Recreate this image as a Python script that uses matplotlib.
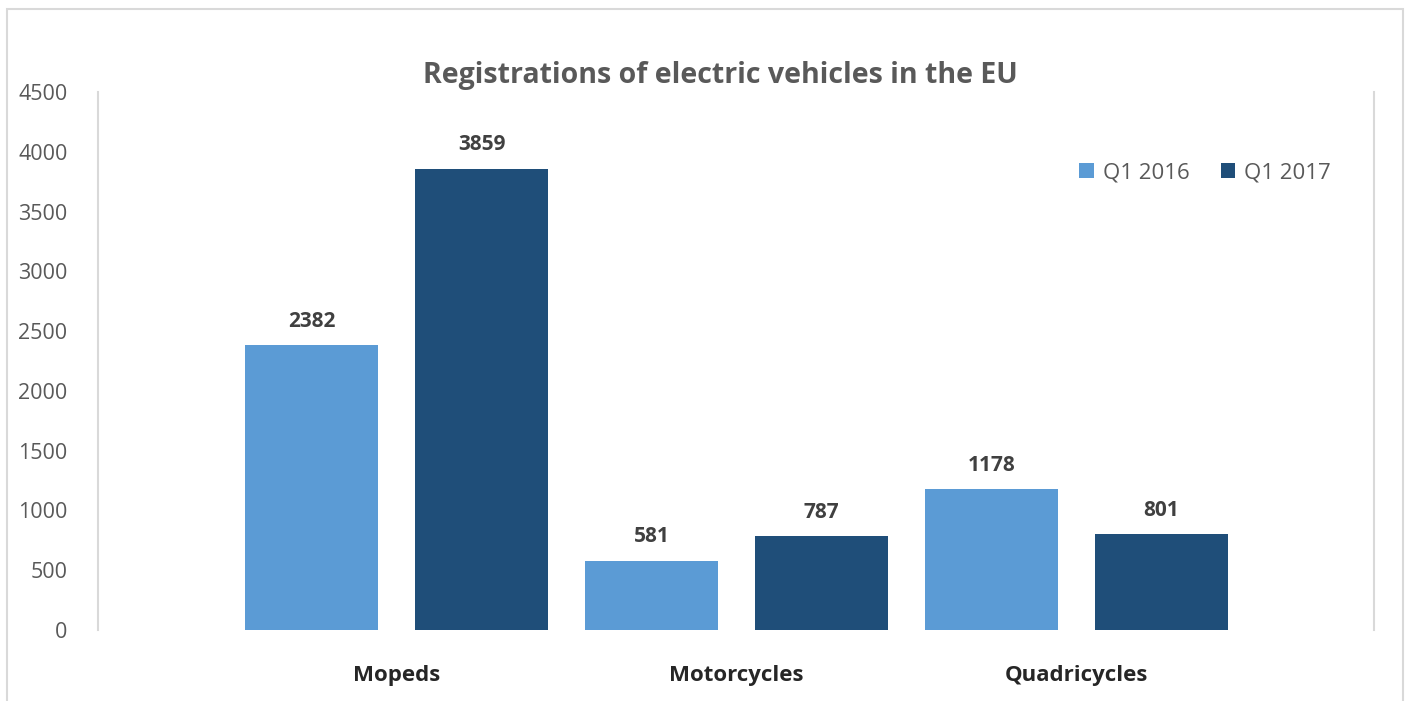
import matplotlib.pyplot as plt
from matplotlib.patches import Rectangle
import numpy as np

categories = ["Mopeds", "Motorcycles", "Quadricycles"]
series = ["Q1 2016", "Q1 2017"]
q1_2016 = [2382, 581, 1178]
q1_2017 = [3859, 787, 801]

colors = ["#5b9bd5", "#1f4e79"]
grey = "#595959"
line_grey = "#d9d9d9"

W, H = 1406, 701
fig = plt.figure(figsize=(W / 100, H / 100), dpi=100)
ax = fig.add_axes([98 / W, (H - 630) / H, (1374 - 98) / W, (630 - 92) / H])

# outer chart border (bottom edge falls outside the image)
fig.patches.append(Rectangle((7 / W, -0.05), (1403 - 7) / W, (H - 9) / H + 0.05,
                             transform=fig.transFigure, fill=False,
                             edgecolor=line_grey, linewidth=1.5))

x = np.arange(len(categories))
width = 0.39
off = 0.25

for i, (vals, lab) in enumerate(zip([q1_2016, q1_2017], series)):
    pos = x + (i * 2 - 1) * off
    bars = ax.bar(pos, vals, width, color=colors[i], label=lab)
    for b, v in zip(bars, vals):
        ax.text(b.get_x() + b.get_width() / 2, v + 110, str(v),
                ha="center", va="bottom", fontsize=15, fontweight="bold",
                color="#404040", family="Open Sans")

ax.set_xlim(-0.878, 2.875)
ax.set_ylim(0, 4500)
ax.set_yticks(range(0, 4501, 500))
ax.set_xticks(x)
ax.set_xticklabels(categories, fontsize=16, fontweight="bold",
                   color="#262626", family="Open Sans")
ax.tick_params(axis="x", length=0, pad=25)
ax.tick_params(axis="y", length=0, pad=22, labelsize=15.5, labelcolor=grey)
for t in ax.get_yticklabels():
    t.set_family("Open Sans")

ax.spines["top"].set_visible(False)
ax.spines["bottom"].set_visible(False)
ax.spines["left"].set_color(line_grey)
ax.spines["right"].set_color(line_grey)
ax.spines["left"].set_linewidth(1.5)
ax.spines["right"].set_linewidth(1.5)

fig.text(720 / W, 1 - 76 / H, "Registrations of electric vehicles in the EU",
         ha="center", va="center", fontsize=20.5, fontweight="bold",
         color=grey, family="Open Sans")

ax.legend(loc="center", bbox_to_anchor=((1205 - 98) / (1374 - 98), (630 - 173) / (630 - 92)),
          ncol=2, frameon=False, handlelength=0.65, handleheight=0.65,
          handletextpad=0.4, columnspacing=1.4,
          prop={"family": "Open Sans", "size": 16}, labelcolor=grey)

fig.savefig("out.png", dpi=100)
